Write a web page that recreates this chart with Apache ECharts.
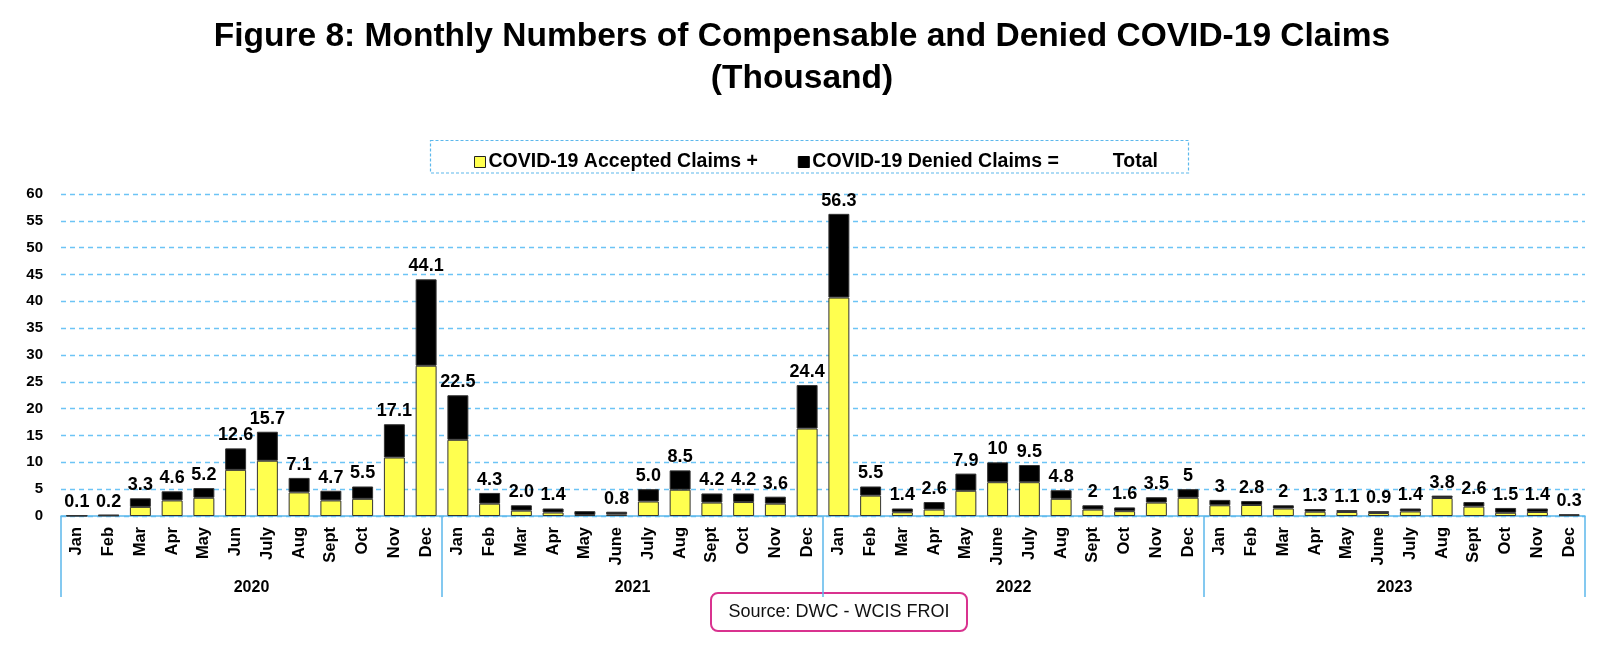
<!DOCTYPE html>
<html>
<head>
<meta charset="utf-8">
<script src="https://cdn.jsdelivr.net/npm/echarts@6/dist/echarts.min.js"></script>
<style>
html,body{margin:0;padding:0;background:#fff;}
#chart{width:1600px;height:650px;}
</style>
</head>
<body>
<div id="chart"></div>
<script>
const months = [
  'Jan','Feb','Mar','Apr','May','Jun','July','Aug','Sept','Oct','Nov','Dec',
  'Jan','Feb','Mar','Apr','May','June','July','Aug','Sept','Oct','Nov','Dec',
  'Jan','Feb','Mar','Apr','May','June','July','Aug','Sept','Oct','Nov','Dec',
  'Jan','Feb','Mar','Apr','May','June','July','Aug','Sept','Oct','Nov','Dec'
];
const years = ['2020','2021','2022','2023'];
const accepted = [
  0.05,0.1,1.7,2.9,3.4,8.6,10.3,4.4,2.9,3.2,10.9,28.0,
  14.2,2.3,1.0,0.65,0.2,0.3,2.7,4.9,2.5,2.6,2.3,16.3,
  40.7,3.8,0.7,1.2,4.7,6.3,6.3,3.2,1.2,0.9,2.5,3.4,
  2.0,2.05,1.4,0.8,0.75,0.55,0.85,3.35,1.75,0.6,0.75,0.15
];
const denied = [
  0.05,0.1,1.6,1.7,1.8,4.0,5.4,2.7,1.8,2.3,6.2,16.1,
  8.3,2.0,1.0,0.75,0.7,0.5,2.3,3.6,1.7,1.6,1.3,8.1,
  15.6,1.7,0.7,1.4,3.2,3.7,3.2,1.6,0.8,0.7,1.0,1.6,
  1.0,0.75,0.6,0.5,0.35,0.35,0.55,0.45,0.85,0.9,0.65,0.15
];
const totalLabels = [
  '0.1','0.2','3.3','4.6','5.2','12.6','15.7','7.1','4.7','5.5','17.1','44.1',
  '22.5','4.3','2.0','1.4','','0.8','5.0','8.5','4.2','4.2','3.6','24.4',
  '56.3','5.5','1.4','2.6','7.9','10','9.5','4.8','2','1.6','3.5','5',
  '3','2.8','2','1.3','1.1','0.9','1.4','3.8','2.6','1.5','1.4','0.3'
];
const yTicks = {min:0, max:60, interval:5};

const FONT = '"Liberation Sans", Arial, sans-serif';
const BLUE = '#5cb8ec';
const chart = echarts.init(document.getElementById('chart'));
chart.setOption({
  animation:false,
  backgroundColor:'#fff',
  textStyle:{fontFamily:FONT},
  title:{
    text:'Figure 8: Monthly Numbers of Compensable and Denied COVID-19 Claims\n(Thousand)',
    left:797, top:11, textAlign:'center',
    textStyle:{fontSize:33.5, fontWeight:'bold', color:'#000', lineHeight:42, fontFamily:FONT}
  },
  legend:{
    left:469, top:147,
    itemWidth:11, itemHeight:11, itemGap:40,
    selectedMode:false,
    textStyle:{fontSize:19.5, fontWeight:'bold', color:'#000', fontFamily:FONT, padding:[0,0,0,-2]},
    data:[
      {name:'COVID-19 Accepted Claims +', icon:'rect', itemStyle:{color:'#ffff4f', borderColor:'#222', borderWidth:1}},
      {name:'COVID-19 Denied Claims =', icon:'rect', itemStyle:{color:'#000', borderColor:'#000', borderWidth:1}},
      {name:'Total', icon:'none'}
    ]
  },
  graphic:[
    {type:'rect', shape:{x:430.5, y:140.5, width:758, height:32.5},
     style:{fill:'none', stroke:BLUE, lineWidth:1.2, lineDash:[3,2]}, z:-1},
    {type:'group', z:100, children:[
      {type:'rect', shape:{x:711, y:593, width:256, height:38, r:7},
       style:{fill:'#fff', stroke:'#d9338f', lineWidth:2}},
      {type:'text', x:839, y:612,
       style:{text:'Source: DWC - WCIS FROI', fontSize:18, fontFamily:FONT, fill:'#111', align:'center', verticalAlign:'middle'}}
    ]}
  ],
  grid:{left:61, right:15, top:194, bottom:134, containLabel:false},
  xAxis:[
    {
      type:'category', data:months, position:'bottom',
      axisLine:{show:true, lineStyle:{color:BLUE, width:1.5}},
      axisTick:{show:false},
      axisLabel:{interval:0, rotate:90, margin:11, fontSize:16.5, fontWeight:'bold', color:'#000', fontFamily:FONT}
    },
    {
      type:'category', data:years, position:'bottom',
      axisLine:{show:false},
      axisTick:{show:true, interval:0, length:81, lineStyle:{color:BLUE, width:1.5}},
      axisLabel:{interval:0, margin:64, fontSize:16, fontWeight:'bold', color:'#000', fontFamily:FONT}
    }
  ],
  yAxis:{
    type:'value', min:yTicks.min, max:yTicks.max, interval:yTicks.interval,
    axisLine:{show:false}, axisTick:{show:false},
    axisLabel:{margin:18, fontSize:15, fontWeight:'bold', color:'#000', fontFamily:FONT},
    splitLine:{show:true, lineStyle:{color:'#6cc4f5', type:[5,4], width:1.3}}
  },
  series:[
    {
      name:'COVID-19 Accepted Claims +', type:'bar', stack:'claims', data:accepted,
      barWidth:'66%',
      itemStyle:{color:'#ffff4f', borderColor:'#333', borderWidth:1}
    },
    {
      name:'COVID-19 Denied Claims =', type:'bar', stack:'claims', data:denied,
      barWidth:'66%',
      itemStyle:{color:'#000', borderColor:'#333', borderWidth:1},
      label:{show:true, position:'top', distance:4, fontSize:18, fontWeight:'bold', color:'#000', fontFamily:FONT,
        formatter:p => totalLabels[p.dataIndex]}
    },
    {name:'Total', type:'bar', stack:'claims', data:[]}
  ]
});
</script>
</body>
</html>
